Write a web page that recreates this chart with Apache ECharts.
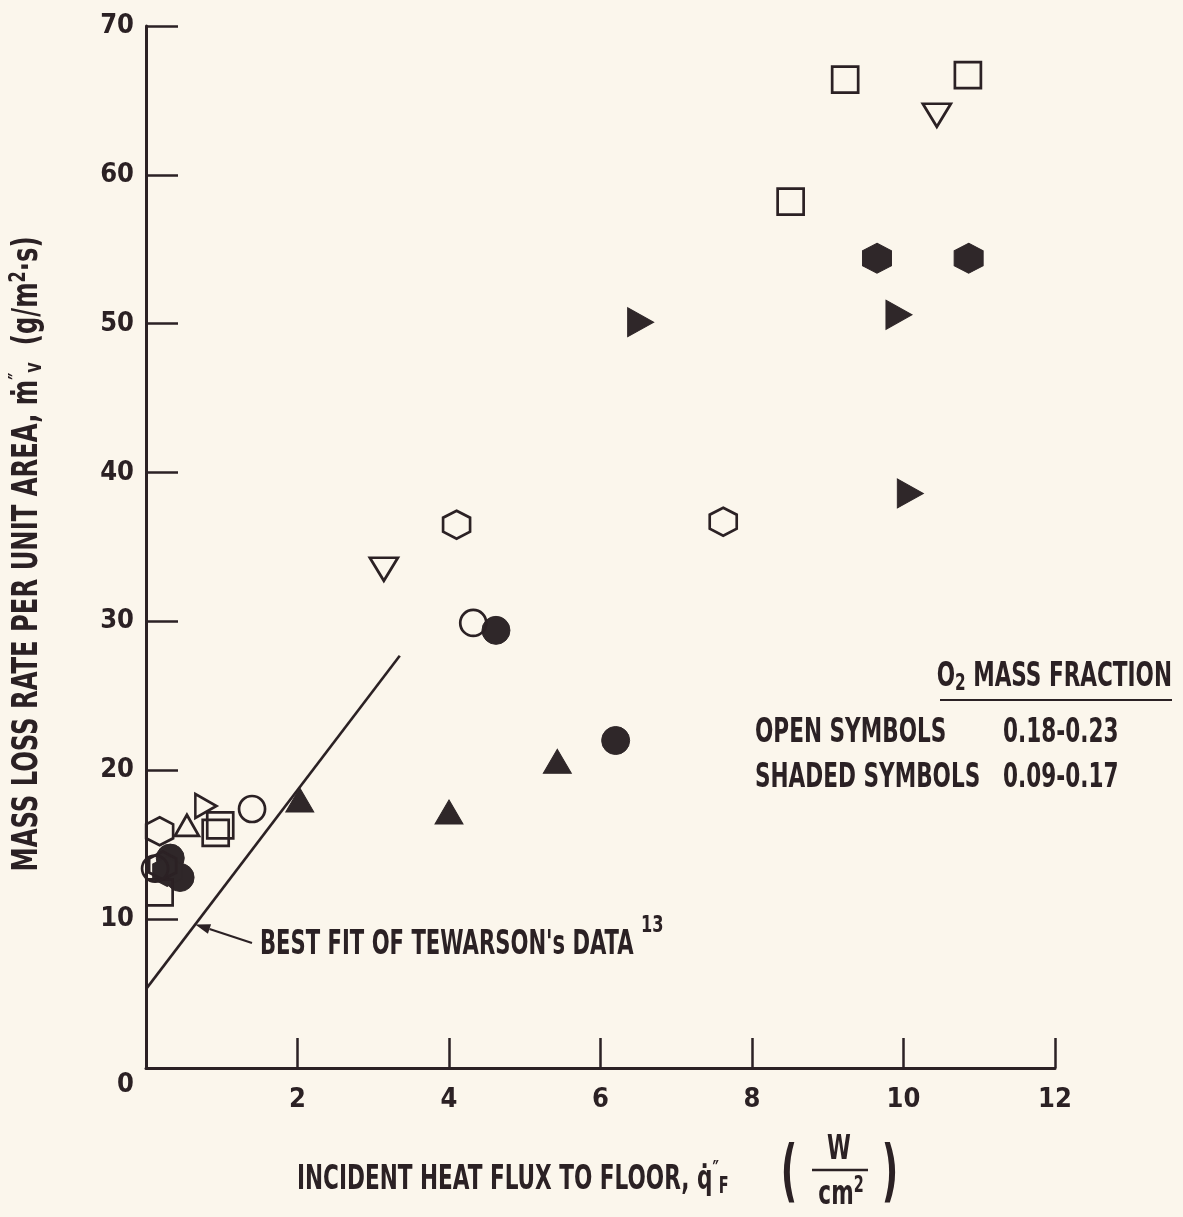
<!DOCTYPE html>
<html>
<head>
<meta charset="utf-8">
<script src="https://cdn.jsdelivr.net/npm/echarts@6/dist/echarts.min.js"></script>
<style>
  html, body { margin: 0; padding: 0; background: #fbf6ec; }
  #chart { width: 1183px; height: 1217px; }
</style>
</head>
<body>
<div id="chart"></div>
<script>
// Axis ranges: [min, max, interval]
const xRange = [0, 12, 2];
const yRange = [0, 70, 10];

// Open symbols: O2 mass fraction 0.18-0.23
const openSquares        = [[9.23, 66.4], [10.85, 66.7], [8.51, 58.2], [0.98, 16.3], [0.92, 15.8], [0.18, 11.8]];
const openDownTriangles  = [[3.14, 33.5], [10.44, 64.0]];
const openHexagons       = [[4.10, 36.5], [7.62, 36.7], [0.18, 15.9], [0.22, 13.6]];
const openCircles        = [[1.40, 17.4], [4.32, 29.9], [0.12, 13.4]];
const openUpTriangles    = [[0.54, 16.3]];
const openRightTriangles = [[0.79, 17.6]];

// Shaded symbols: O2 mass fraction 0.09-0.17
const filledCircles        = [[4.62, 29.4], [6.20, 22.0], [0.45, 12.8], [0.32, 14.1]];
const filledHexagons       = [[9.65, 54.4], [10.86, 54.4], [0.28, 13.2]];
const filledRightTriangles = [[6.53, 50.1], [9.94, 50.6], [10.09, 38.6]];
const filledUpTriangles    = [[2.03, 18.0], [4.00, 17.2], [5.43, 20.6]];

// Best fit of Tewarson's data (straight line end points)
const fitLine = [[0, 5.3], [3.35, 27.7]];
const fitArrowX = 0.65;

const INK = '#2b2124';
const BG = '#fbf6ec';
const FONT = '"Liberation Sans Narrow","DejaVu Sans Condensed","Noto Sans",sans-serif';

const HEX = 'path://M0,-10L9.7,-5L9.7,5L0,10L-9.7,5L-9.7,-5Z';
const TRI_UP = 'path://M0,-8.66L10,8.66L-10,8.66Z';
const TRI_DOWN = 'path://M-10,-8.66L10,-8.66L0,8.66Z';
const TRI_RIGHT = 'path://M-9,-10L9,0L-9,10Z';

function openSeries(name, data, symbol, size) {
  return {
    name, type: 'scatter', data, symbol, symbolSize: size, symbolKeepAspect: false,
    itemStyle: { color: 'rgba(0,0,0,0)', borderColor: INK, borderWidth: 2.7, opacity: 1 },
    emphasis: { disabled: true }, z: 3
  };
}
function filledSeries(name, data, symbol, size) {
  return {
    name, type: 'scatter', data, symbol, symbolSize: size, symbolKeepAspect: false,
    itemStyle: { color: '#2f2729', borderColor: '#2f2729', borderWidth: 1, opacity: 1 },
    emphasis: { disabled: true }, z: 2
  };
}

const chart = echarts.init(document.getElementById('chart'), null, { renderer: 'canvas' });

const axisFont = { fontFamily: FONT, fontSize: 27, fontWeight: 'bold', color: INK };

chart.setOption({
  backgroundColor: BG,
  animation: false,
  grid: { left: 146, right: 128, top: 26, bottom: 149, containLabel: false },
  xAxis: {
    type: 'value', min: xRange[0], max: xRange[1], interval: xRange[2],
    axisLine: { show: true, onZero: false, lineStyle: { color: INK, width: 3 } },
    axisTick: { show: true, inside: true, length: 30, lineStyle: { color: INK, width: 2.5 } },
    splitLine: { show: false },
    axisLabel: Object.assign({ margin: 18, formatter: v => (v === 0 ? '' : String(v)) }, axisFont)
  },
  yAxis: {
    type: 'value', min: yRange[0], max: yRange[1], interval: yRange[2],
    axisLine: { show: true, onZero: false, lineStyle: { color: INK, width: 3 } },
    axisTick: { show: true, inside: true, length: 32, lineStyle: { color: INK, width: 2.5 } },
    splitLine: { show: false },
    axisLabel: Object.assign({
      margin: 12,
      formatter: v => (v === 0 ? '{zero|0}' : String(v)),
      rich: { zero: { fontFamily: FONT, fontSize: 27, fontWeight: 'bold', color: INK, padding: [34, 0, 0, 0] } }
    }, axisFont)
  },
  series: [
    {
      name: 'Best fit', type: 'line', data: fitLine, symbol: 'none', silent: true,
      lineStyle: { color: INK, width: 2.6 }, z: 1
    },
    filledSeries('Shaded circles', filledCircles, 'circle', 28),
    filledSeries('Shaded hexagons', filledHexagons, HEX, [29, 30]),
    filledSeries('Shaded right triangles', filledRightTriangles, TRI_RIGHT, [26, 29]),
    filledSeries('Shaded triangles', filledUpTriangles, TRI_UP, [28, 24]),
    openSeries('Open squares', openSquares, 'rect', 26),
    openSeries('Open inverted triangles', openDownTriangles, TRI_DOWN, [28, 23]),
    openSeries('Open hexagons', openHexagons, HEX, [27, 28]),
    openSeries('Open circles', openCircles, 'circle', 26),
    openSeries('Open triangles', openUpTriangles, TRI_UP, [24, 21]),
    openSeries('Open right triangles', openRightTriangles, TRI_RIGHT, [21, 24])
  ]
});

// Text helpers for the annotations and axis titles
function label(id, x, y, text, o) {
  o = o || {};
  const size = o.size || 24;
  return {
    type: 'text', id, x, y, rotation: o.rotation || 0,
    scaleY: o.scaleY || 1.4, z: 10, silent: true,
    style: {
      text, fill: INK, fontFamily: FONT, fontSize: size, fontWeight: o.weight || 'bold',
      align: o.align || 'left', textAlign: o.align || 'left',
      verticalAlign: 'middle', textVerticalAlign: 'middle',
      rich: o.rich
    }
  };
}
const supSub = (size) => ({
  sp: { fontFamily: FONT, fontSize: size, fontWeight: 'bold', fill: INK, padding: [0, 0, size * 0.8, 0] },
  sb: { fontFamily: FONT, fontSize: size, fontWeight: 'bold', fill: INK, padding: [size * 0.6, 0, 0, 0] }
});

// Arrow from the note to the fit line
const tip = chart.convertToPixel({ gridIndex: 0 }, [
  fitArrowX,
  fitLine[0][1] + (fitLine[1][1] - fitLine[0][1]) * (fitArrowX - fitLine[0][0]) / (fitLine[1][0] - fitLine[0][0])
]);
const tail = [252, 943];
const dx = tail[0] - tip[0], dy = tail[1] - tip[1];
const len = Math.hypot(dx, dy), ux = dx / len, uy = dy / len;
const headL = 15, headW = 5;
const base = [tip[0] + ux * headL, tip[1] + uy * headL];

chart.setOption({
  graphic: [
    { type: 'line', id: 'arrowShaft', z: 10, silent: true,
      shape: { x1: tail[0], y1: tail[1], x2: base[0], y2: base[1] },
      style: { stroke: INK, lineWidth: 2.2 } },
    { type: 'polygon', id: 'arrowHead', z: 10, silent: true,
      shape: { points: [tip, [base[0] - uy * headW, base[1] + ux * headW], [base[0] + uy * headW, base[1] - ux * headW]] },
      style: { fill: INK } },
    label('fitNote', 260, 945, "BEST FIT OF TEWARSON's DATA", { size: 23.5, scaleY: 1.42 }),
    label('fitRef', 641, 926, '13', { size: 18, scaleY: 1.3 }),

    // O2 mass fraction key
    label('keyTitle', 1172, 677, 'O{sb|2} MASS FRACTION', { size: 24, align: 'right', rich: supSub(17) }),
    { type: 'line', id: 'keyRule', z: 10, silent: true,
      shape: { x1: 940, y1: 700, x2: 1172, y2: 700 }, style: { stroke: INK, lineWidth: 2 } },
    label('keyOpen', 755, 733, 'OPEN SYMBOLS', { size: 24 }),
    label('keyOpenVal', 1003, 733, '0.18-0.23', { size: 24 }),
    label('keyShaded', 755, 778, 'SHADED SYMBOLS', { size: 24 }),
    label('keyShadedVal', 1003, 778, '0.09-0.17', { size: 24 }),

    // Y axis title
    label('yTitle', 28, 554, 'MASS LOSS RATE PER UNIT AREA, ṁ{sp|″}{sb|v}  (g/m{sp|2}·s)',
      { size: 27, align: 'center', rotation: Math.PI / 2, scaleY: 1.3, rich: supSub(18) }),

    // X axis title with the W/cm² fraction
    label('xTitle', 297, 1180, 'INCIDENT HEAT FLUX TO FLOOR, q̇{sp|″}{sb|F}', { size: 24, rich: supSub(16) }),
    label('xParenL', 789, 1176, '(', { size: 40, align: 'center', scaleY: 1.7 }),
    label('xNum', 839, 1150, 'W', { size: 24, align: 'center' }),
    { type: 'line', id: 'xFracBar', z: 10, silent: true,
      shape: { x1: 812, y1: 1170, x2: 868, y2: 1170 }, style: { stroke: INK, lineWidth: 2.4 } },
    label('xDen', 841, 1195, 'cm{sp|2}', { size: 24, align: 'center', rich: supSub(16) }),
    label('xParenR', 890, 1176, ')', { size: 40, align: 'center', scaleY: 1.7 })
  ]
});
</script>
</body>
</html>
